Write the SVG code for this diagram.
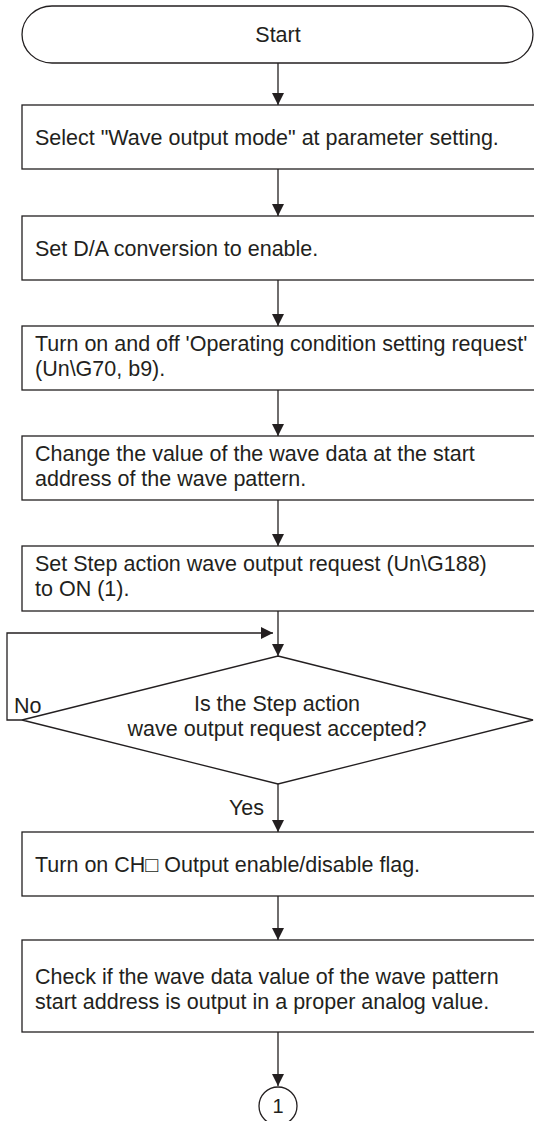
<svg xmlns="http://www.w3.org/2000/svg" width="534" height="1121" viewBox="0 0 534 1121">
<defs>
<style>
.shape{fill:#fff;stroke:#231f20;stroke-width:1.3}
.txt{font-family:"Liberation Sans",Arial,sans-serif;font-size:21.5px;fill:#231f20}
.mid{text-anchor:middle}
.conn{fill:none;stroke:#231f20;stroke-width:1.3}
</style>
<marker id="arr" viewBox="0 0 12 12" refX="12" refY="6" markerWidth="12" markerHeight="12" markerUnits="userSpaceOnUse" orient="auto">
<path d="M0,0 L12,6 L0,12 Z" fill="#231f20"/>
</marker>
</defs>
<rect width="534" height="1121" fill="#fff"/>
<g id="connectors">
<line class="conn" x1="278" y1="63" x2="278" y2="105" marker-end="url(#arr)"/>
<line class="conn" x1="278" y1="169" x2="278" y2="216" marker-end="url(#arr)"/>
<line class="conn" x1="278" y1="280" x2="278" y2="326" marker-end="url(#arr)"/>
<line class="conn" x1="278" y1="390" x2="278" y2="436" marker-end="url(#arr)"/>
<line class="conn" x1="278" y1="500" x2="278" y2="546" marker-end="url(#arr)"/>
<line class="conn" x1="278" y1="611" x2="278" y2="656" marker-end="url(#arr)"/>
<polyline class="conn" points="22,720 7,720 7,633 273,633" marker-end="url(#arr)"/>
<line class="conn" x1="278" y1="784" x2="278" y2="832" marker-end="url(#arr)"/>
<line class="conn" x1="278" y1="896" x2="278" y2="940" marker-end="url(#arr)"/>
<line class="conn" x1="278" y1="1032" x2="278" y2="1086" marker-end="url(#arr)"/>
<text class="txt" x="14" y="713">No</text>
<text class="txt" x="264" y="815" text-anchor="end">Yes</text>
</g>
<g id="start">
<path class="shape" d="M52,6 H503 A30,28.5 0 0 1 503,63 H52 A30,28.5 0 0 1 52,6 Z"/>
<text class="txt mid" x="278" y="42">Start</text>
</g>
<g id="step1">
<rect class="shape" x="22" y="105" width="514" height="64"/>
<text class="txt" x="35" y="145">Select "Wave output mode" at parameter setting.</text>
</g>
<g id="step2">
<rect class="shape" x="22" y="216" width="514" height="64"/>
<text class="txt" x="35" y="256">Set D/A conversion to enable.</text>
</g>
<g id="step3">
<rect class="shape" x="22" y="326" width="514" height="64"/>
<text class="txt" x="35" y="351">Turn on and off 'Operating condition setting request'</text>
<text class="txt" x="35" y="376">(Un\G70, b9).</text>
</g>
<g id="step4">
<rect class="shape" x="22" y="436" width="514" height="64"/>
<text class="txt" x="35" y="461">Change the value of the wave data at the start</text>
<text class="txt" x="35" y="486">address of the wave pattern.</text>
</g>
<g id="step5">
<rect class="shape" x="22" y="546" width="514" height="65"/>
<text class="txt" x="35" y="571">Set Step action wave output request (Un\G188)</text>
<text class="txt" x="35" y="596">to ON (1).</text>
</g>
<g id="decision">
<polygon class="shape" points="278,656 533,720 278,784 22,720"/>
<text class="txt mid" x="277" y="711">Is the Step action</text>
<text class="txt mid" x="277" y="736">wave output request accepted?</text>
</g>
<g id="step6">
<rect class="shape" x="22" y="832" width="514" height="64"/>
<text class="txt" x="35" y="872">Turn on CH□ Output enable/disable flag.</text>
</g>
<g id="step7">
<rect class="shape" x="22" y="940" width="514" height="92"/>
<text class="txt" x="35" y="984">Check if the wave data value of the wave pattern</text>
<text class="txt" x="35" y="1009">start address is output in a proper analog value.</text>
</g>
<g id="connector1">
<circle class="shape" cx="278" cy="1106" r="19"/>
<text class="txt mid" x="278" y="1113" style="font-size:20px">1</text>
</g>
</svg>
